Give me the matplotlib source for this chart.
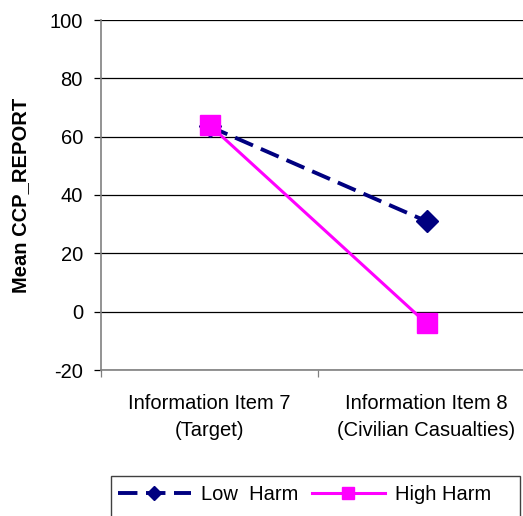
import matplotlib.pyplot as plt
from matplotlib.patches import Rectangle

plt.rcParams['font.family'] = ['Liberation Sans', 'DejaVu Sans']

categories = ['Information Item 7\n(Target)', 'Information Item 8\n(Civilian Casualties)']
low_harm = [63.5, 31]
high_harm = [64, -4]
yticks = [-20, 0, 20, 40, 60, 80, 100]

W, H = 523, 516
fs = 14.5
fig = plt.figure(figsize=(W / 100, H / 100), dpi=100)
# plot area runs past the right edge of the figure
ax = fig.add_axes([101 / W, 1 - 370 / H, 434 / W, 350 / H])

x = [0.5, 1.5]
ax.plot(x, low_harm, color='#000080', lw=2.8, ls=(0, (5, 2.2)),
        marker='D', ms=11, label='Low  Harm', zorder=3)
ax.plot(x, high_harm, color='#FF00FF', lw=2.2,
        marker='s', ms=14, label='High Harm', zorder=4)

ax.set_xlim(0, 2)
ax.set_ylim(-20, 100)
ax.set_yticks(yticks)
ax.set_yticklabels([str(v) for v in yticks], fontsize=fs)
ax.yaxis.grid(True, color='black', lw=0.9)
ax.set_axisbelow(True)

ax.set_xticks([0, 1, 2])
ax.set_xticklabels([])
ax.set_xticks(x, minor=True)
ax.set_xticklabels(categories, minor=True, fontsize=fs, linespacing=1.55)
ax.tick_params(axis='x', which='minor', length=0, pad=17)
ax.tick_params(axis='x', which='major', length=5, width=0.9, color='#808080')
ax.tick_params(axis='y', length=5, width=0.9, color='black', pad=8)

for s in ['top', 'right']:
    ax.spines[s].set_visible(False)
ax.spines['left'].set_color('#808080')
ax.spines['left'].set_linewidth(1.2)
ax.spines['bottom'].set_color('#808080')
ax.spines['bottom'].set_linewidth(1.2)

ax.set_ylabel('Mean CCP_REPORT', fontsize=fs, fontweight='bold', labelpad=14)

# legend box, cut off at the bottom of the figure
fig.patches.append(Rectangle((111 / W, -0.05), 409 / W, 0.05 + 40 / H,
                             transform=fig.transFigure, fill=False,
                             edgecolor='#404040', lw=1))
leg = fig.legend(loc='center left', bbox_to_anchor=(118 / W, 1 - 495 / H),
                 ncol=2, frameon=False, fontsize=fs, handlelength=3.6,
                 columnspacing=0.7, handletextpad=0.5, borderaxespad=0,
                 borderpad=0)
leg.legend_handles[0].set_markersize(7.5)
leg.legend_handles[1].set_markersize(9)

fig.savefig('out.png', dpi=100)
